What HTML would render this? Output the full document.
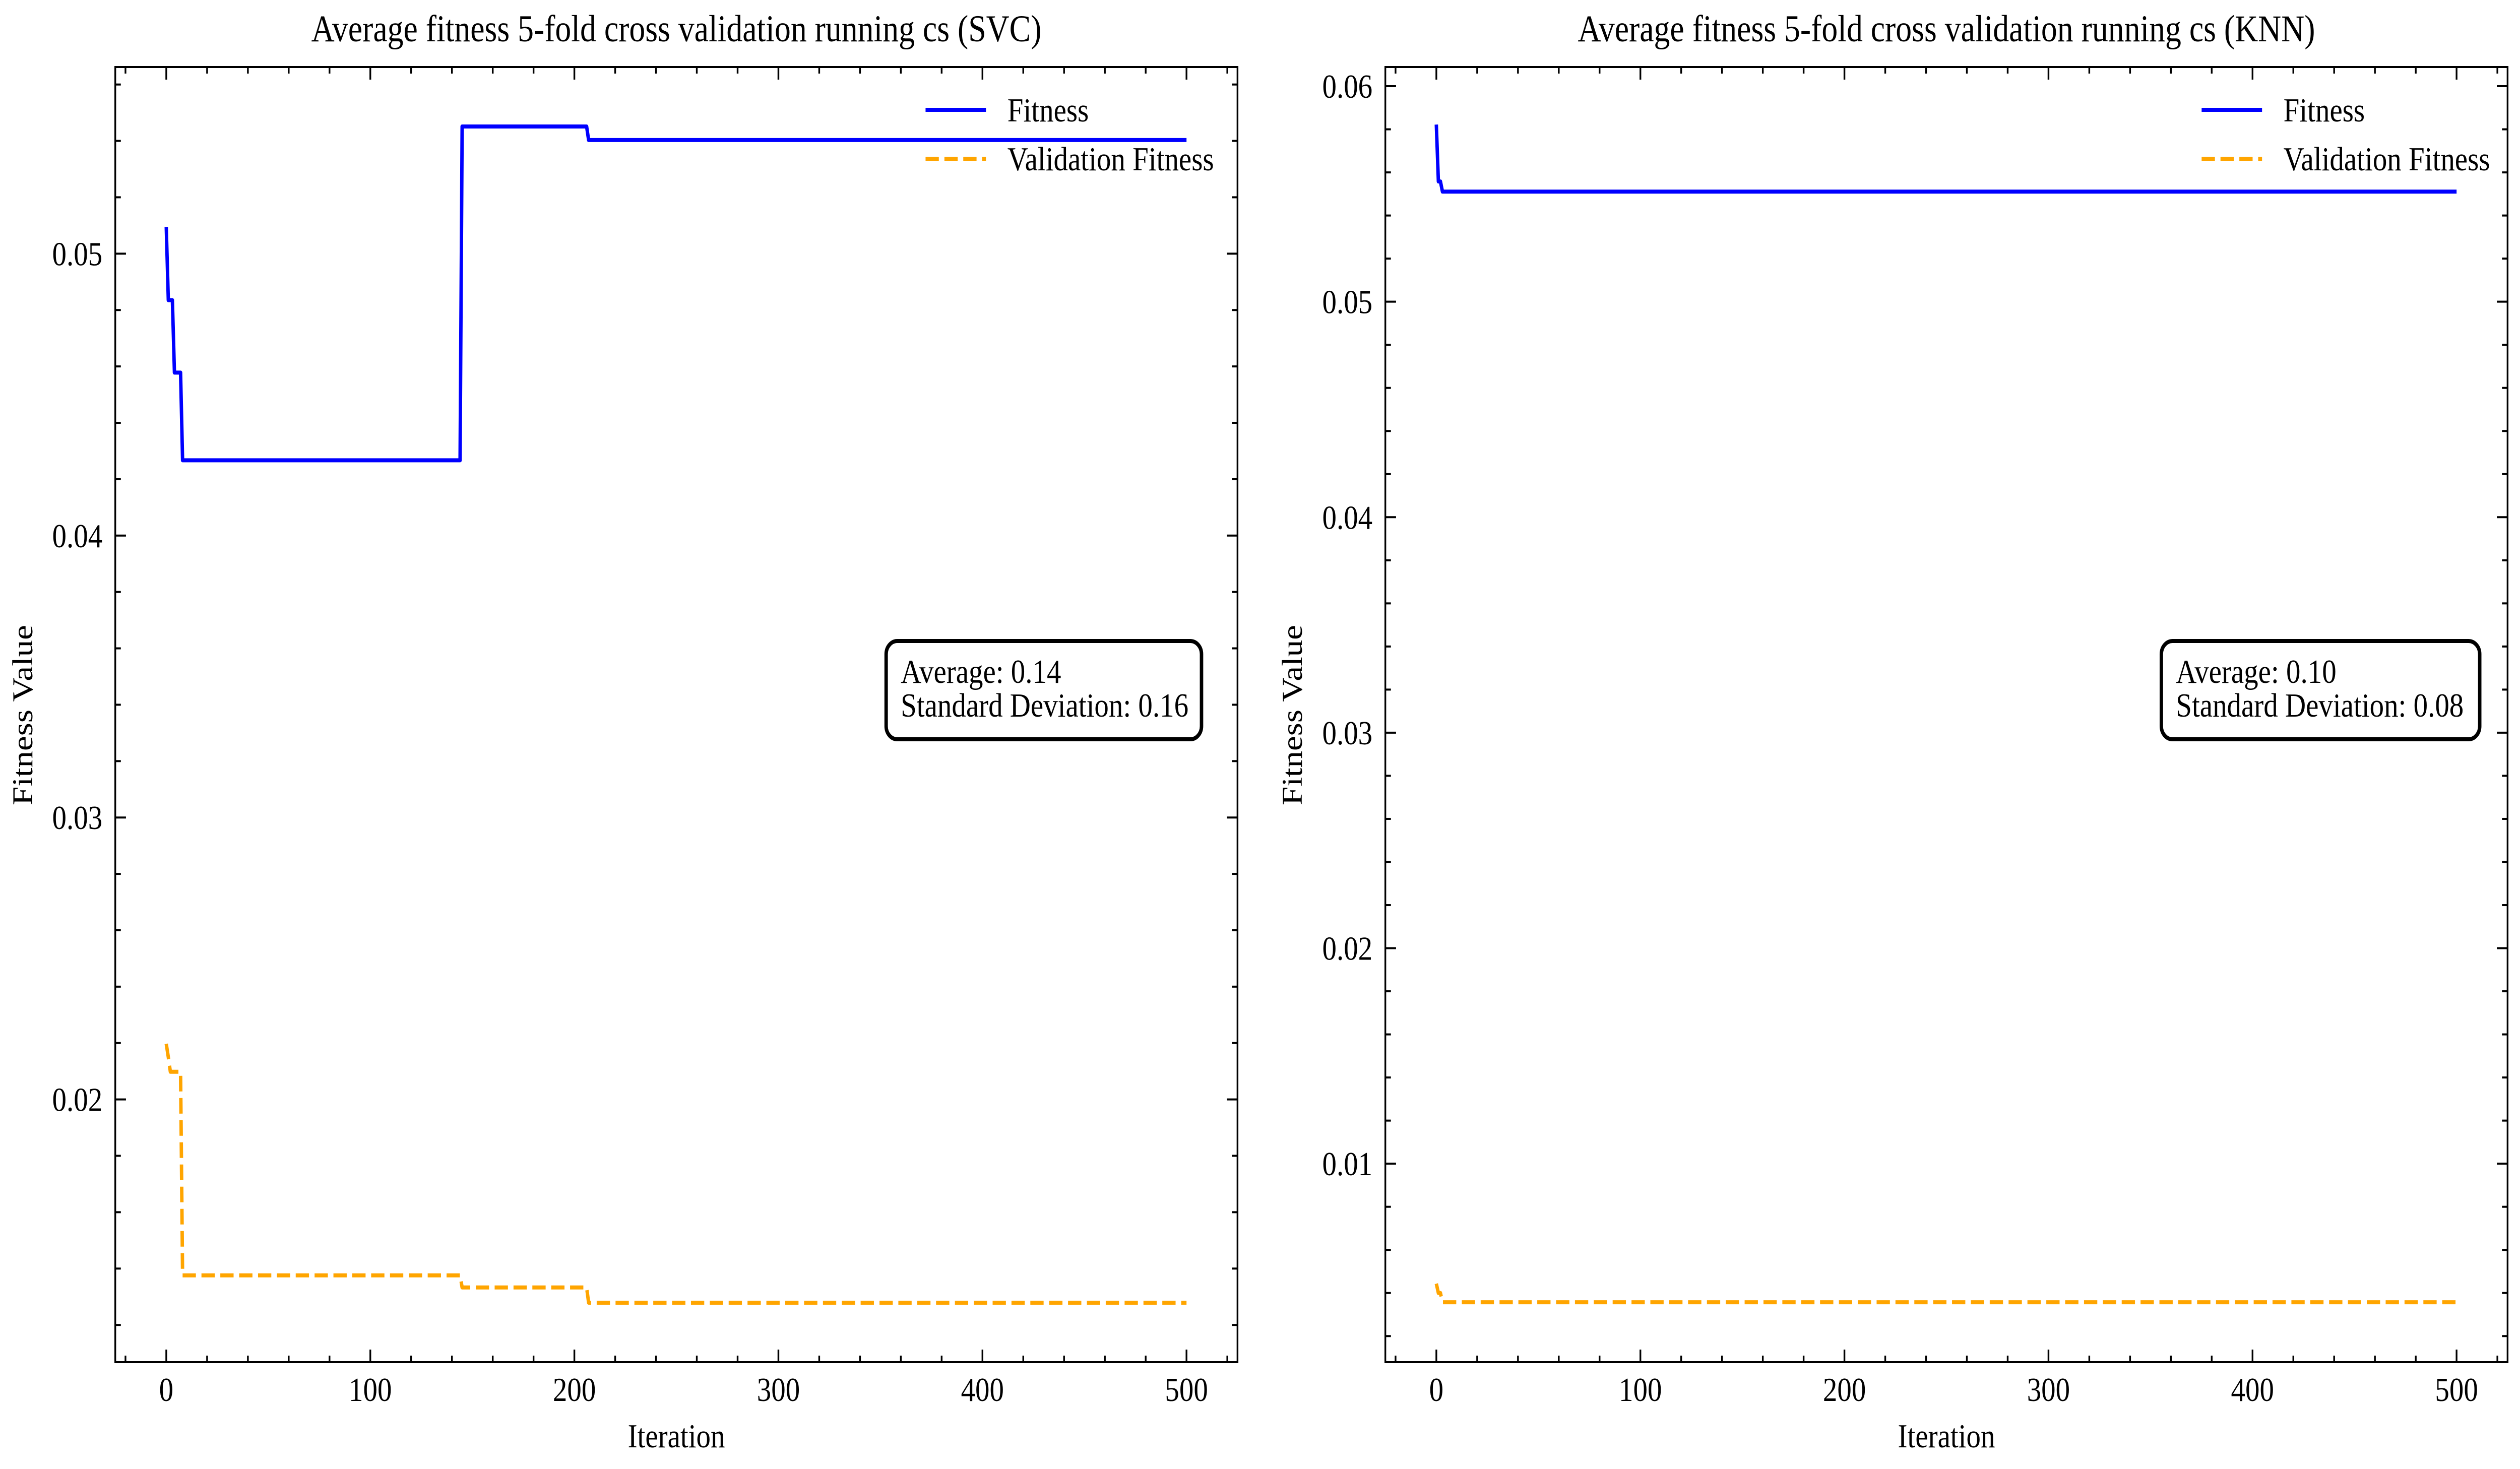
<!DOCTYPE html>
<html><head><meta charset="utf-8"><style>
html,body{margin:0;padding:0;background:#fff;width:100%;height:100%;overflow:hidden;}
svg{display:block;width:100vw;height:100vh;}
svg text{font-family:"Liberation Serif",serif;fill:#000;}
</style></head><body>
<svg id="chart" viewBox="0 0 5881 2915" preserveAspectRatio="none" xmlns="http://www.w3.org/2000/svg">
<rect width="5881" height="2915" fill="#fff"/>
</svg>
<script>
// ---- data ----
const svcFitIter = [0,1,3,4,7,8,144,145,206,207,500];
const svcFitVal  = [0.05095,0.04835,0.04835,0.04578,0.04578,0.04267,0.04267,0.05451,0.05451,0.05403,0.05403];
const svcValIter = [0,1,2,7,8,144,145,206,207,500];
const svcValVal  = [0.02197,0.02150,0.02098,0.02098,0.01376,0.01376,0.01333,0.01333,0.01279,0.01279];
const knnFitIter = [0,1,2,3,500];
const knnFitVal  = [0.05822,0.05558,0.05558,0.05511,0.05511];
const knnValIter = [0,1,2,3,500];
const knnValVal  = [0.00443,0.00400,0.00400,0.00357,0.00357];
const xTicks = [0,100,200,300,400,500];
const svcYTicks = [0.02,0.03,0.04,0.05];
const knnYTicks = [0.01,0.02,0.03,0.04,0.05,0.06];
const svcStats = ["Average: 0.14","Standard Deviation: 0.16"];
const knnStats = ["Average: 0.10","Standard Deviation: 0.08"];
const titles = ["Average fitness 5-fold cross validation running cs (SVC)","Average fitness 5-fold cross validation running cs (KNN)"];

const NS="http://www.w3.org/2000/svg";
const svg=document.getElementById('chart');
function mk(tag,attrs,parent,txt){const e=document.createElementNS(NS,tag);for(const k in attrs)e.setAttribute(k,attrs[k]);if(txt!==undefined)e.textContent=txt;(parent||svg).appendChild(e);return e;}

function panel(p){
  const g=mk('g',{});
  
  
  const L=p.L,R=p.R,T=133,B=2703;
  const xs=v=>L+(v-(-25))/(550)*(R-L);
  const ys=v=>B-(v-p.ymin)/(p.ymax-p.ymin)*(B-T);
  const tg=mk('g',{stroke:'#000','stroke-width':4},g);
  for(let v=-20;v<=520;v+=20){const x=xs(v);const maj=(v%100===0);const len=maj?25:13;
    mk('line',{x1:x,y1:B,x2:x,y2:B-len},tg);mk('line',{x1:x,y1:T,x2:x,y2:T+len},tg);}
  const step=0.002;
  for(let k=Math.ceil(p.ymin/step);k*step<=p.ymax;k++){const v=k*step;const y=ys(v);const maj=(k%5===0);const len=maj?25:13;
    mk('line',{x1:L,y1:y,x2:L+len,y2:y},tg);mk('line',{x1:R,y1:y,x2:R-len,y2:y},tg);}
  xTicks.forEach(v=>{const t=mk('text',{x:xs(v),y:2780,'font-size':67,'text-anchor':'middle'},g,String(v));
    
    });
  p.yTicks.forEach(v=>{const t=mk('text',{x:L-30,y:ys(v)+23,'font-size':67,'text-anchor':'end'},g,v.toFixed(2));
    
    });
  const pts=(I,V)=>I.map((it,i)=>xs(it).toFixed(1)+','+ys(V[i]).toFixed(1)).join(' ');
  const l1=mk('polyline',{points:pts(p.fi,p.fv),fill:'none',stroke:'#0000ff','stroke-width':8,'stroke-linejoin':'round'},g);
  
  
  const l2=mk('polyline',{points:pts(p.vi,p.vv),fill:'none',stroke:'#ffa500','stroke-width':8,'stroke-dasharray':'31 13','stroke-linejoin':'round'},g);
  
  
  const sp=mk('rect',{x:L,y:T,width:R-L,height:B-T,fill:'none',stroke:'#000','stroke-width':4},g);
  
  
  const ti=mk('text',{x:(L+R)/2,y:82,'font-size':75,'text-anchor':'middle'},g,p.title);
  
  
  const xl=mk('text',{x:(L+R)/2,y:2872,'font-size':67,'text-anchor':'middle'},g,'Iteration');
  
  
  const yl=mk('text',{transform:`translate(${p.ylx},1419) rotate(-90)`,'font-size':67,'text-anchor':'middle'},g,'Fitness Value');
  
  
  const lg=mk('g',{},g);
  
  
  mk('line',{x1:p.lgx,y1:218,x2:p.lgx+141,y2:218,stroke:'#0000ff','stroke-width':8},lg);
  const e1=mk('text',{x:p.lgx+191,y:241,'font-size':67},lg,'Fitness');
  
  
  mk('line',{x1:p.lgx,y1:315,x2:p.lgx+141,y2:315,stroke:'#ffa500','stroke-width':8,'stroke-dasharray':'31 13'},lg);
  const e2=mk('text',{x:p.lgx+191,y:338,'font-size':67},lg,'Validation Fitness');
  
  
  const bx=mk('g',{},g);
  
  
  mk('rect',{x:p.bx,y:1272,width:p.bw,height:195,rx:26,ry:26,fill:'#fff',stroke:'#000','stroke-width':8},bx);
  mk('text',{x:p.bx+34,y:1355,'font-size':67},bx,p.stats[0]);
  mk('text',{x:p.bx+34,y:1422,'font-size':67},bx,p.stats[1]);
}
panel({name:'svc-panel',L:269,R:2888,ymin:0.01068,ymax:0.05662,yTicks:svcYTicks,fi:svcFitIter,fv:svcFitVal,vi:svcValIter,vv:svcValVal,title:titles[0],ylx:75,lgx:2160,bx:2068,bw:736,stats:svcStats});
panel({name:'knn-panel',L:3233,R:5852,ymin:0.00079,ymax:0.06089,yTicks:knnYTicks,fi:knnFitIter,fv:knnFitVal,vi:knnValIter,vv:knnValVal,title:titles[1],ylx:3038,lgx:5138,bx:5044,bw:743,stats:knnStats});
</script>
</body></html>
